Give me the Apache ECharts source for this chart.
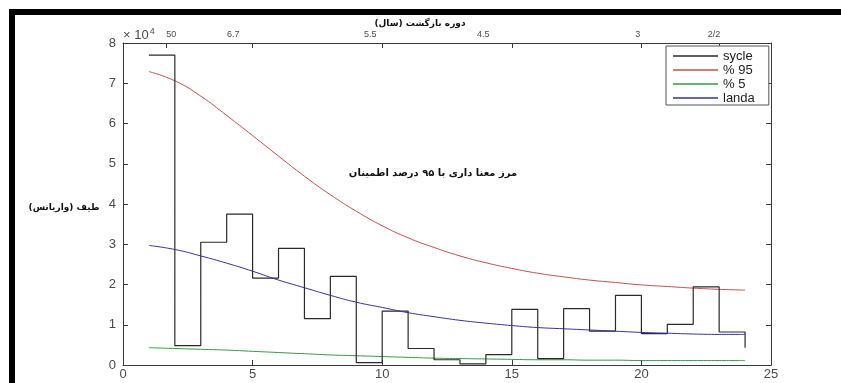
<!DOCTYPE html>
<html>
<head>
<meta charset="utf-8">
<script src="https://cdn.jsdelivr.net/npm/echarts@6/dist/echarts.min.js"></script>
<style>
  html, body { margin: 0; padding: 0; background: #fff; }
  #chart { width: 841px; height: 383px; position: relative; }
  .frame-top { position: absolute; left: 9px; top: 9px; width: 832px; height: 6px; background: #000; }
  .frame-left { position: absolute; left: 9px; top: 9px; width: 6px; height: 374px; background: #000; }
</style>
</head>
<body>
<div id="chart"></div>
<div class="frame-top"></div>
<div class="frame-left"></div>
<script>
// Harmonic numbers (x axis)
const harmonics = [1, 2, 3, 4, 5, 6, 7, 8, 9, 10, 11, 12, 13, 14, 15, 16, 17, 18, 19, 20, 21, 22, 23, 24];

// Spectral variance (x 10^4)
const sycle = [7.70, 0.48, 3.05, 3.75, 2.16, 2.90, 1.15, 2.20, 0.06, 1.34, 0.41, 0.13,
               0.03, 0.26, 1.38, 0.16, 1.40, 0.84, 1.73, 0.78, 1.01, 1.94, 0.82, 0.43];

// 95% confidence limit
const upper95 = [7.29, 7.06, 6.68, 6.20, 5.70, 5.19, 4.69, 4.23, 3.82, 3.46, 3.16, 2.92,
                 2.71, 2.54, 2.40, 2.28, 2.19, 2.11, 2.05, 1.99, 1.95, 1.91, 1.88, 1.86];

// 5% confidence limit
const lower5 = [0.43, 0.41, 0.39, 0.37, 0.34, 0.31, 0.28, 0.25, 0.23, 0.21, 0.19, 0.17,
                0.16, 0.15, 0.14, 0.13, 0.13, 0.12, 0.12, 0.11, 0.11, 0.11, 0.11, 0.11];

// Red-noise background (landa)
const landa = [2.97, 2.87, 2.71, 2.53, 2.33, 2.11, 1.92, 1.73, 1.56, 1.43, 1.30, 1.20,
               1.11, 1.04, 0.98, 0.93, 0.90, 0.87, 0.84, 0.81, 0.79, 0.77, 0.76, 0.76];

// Return period axis (top): tick positions, label positions and label texts
const periodTicks = [1.65, 5, 10, 15, 20, 23];
const periodLabelAt = [1.86, 4.25, 9.54, 13.9, 19.86, 22.8];
const periodLabels = ['50', '6.7', '5.5', '4.5', '3', '2/2'];

const pairs = arr => harmonics.map((h, i) => [h, arr[i]]);

const axisColor = '#3a3a3a';
const labelColor = '#4a4a4a';
const baseFont = 'Liberation Sans, Arial, sans-serif';
const faFont = 'DejaVu Sans, Noto Sans, sans-serif';

const chart = echarts.init(document.getElementById('chart'), null, { renderer: 'canvas' });

chart.setOption({
  animation: false,
  backgroundColor: '#fff',
  grid: { left: 123, top: 43, width: 648, height: 322 },
  title: [
    {
      text: 'دوره بازگشت (سال)',
      left: 415, top: 14, textAlign: 'center',
      textStyle: { fontFamily: faFont, fontSize: 9, fontWeight: 'bold', color: '#111' }
    },
    {
      text: 'طیف (واریانس)',
      left: 59, top: 198, textAlign: 'center',
      textStyle: { fontFamily: faFont, fontSize: 9, fontWeight: 'bold', color: '#111' }
    },
    {
      text: 'مرز معنا داری با ۹۵ درصد اطمینان',
      left: 428, top: 163, textAlign: 'center',
      textStyle: { fontFamily: faFont, fontSize: 10, fontWeight: 'bold', color: '#111' }
    }
  ],
  legend: {
    orient: 'vertical',
    left: 666, top: 46,
    padding: [3, 14, 0, 7],
    icon: 'rect',
    itemWidth: 45, itemHeight: 1.5, itemGap: 0,
    borderColor: '#555', borderWidth: 1,
    backgroundColor: '#fff',
    textStyle: { fontFamily: baseFont, fontSize: 13, lineHeight: 14, color: '#222' },
    data: ['sycle', '% 95', '% 5', 'landa']
  },
  xAxis: [
    {
      type: 'value', position: 'bottom', min: 0, max: 25, interval: 5,
      axisLine: { show: true, lineStyle: { color: axisColor, width: 1 } },
      axisTick: { show: true, inside: true, length: 5, lineStyle: { color: axisColor } },
      axisLabel: { margin: 3, color: labelColor, fontFamily: baseFont, fontSize: 13 },
      splitLine: { show: false }
    },
    {
      type: 'value', position: 'top', min: 0, max: 25,
      axisLine: { show: true, onZero: false, lineStyle: { color: axisColor, width: 1 } },
      axisTick: { show: true, inside: true, length: 5, customValues: periodTicks, lineStyle: { color: axisColor } },
      axisLabel: {
        margin: 4, color: labelColor, fontFamily: baseFont, fontSize: 9,
        customValues: periodLabelAt,
        formatter: v => {
          const i = periodLabelAt.findIndex(p => Math.abs(p - v) < 1e-6);
          return i >= 0 ? periodLabels[i] : '';
        }
      },
      splitLine: { show: false }
    }
  ],
  yAxis: [
    {
      type: 'value', position: 'left', min: 0, max: 8, interval: 1,
      name: '{a|× 10}{b|4}',
      nameLocation: 'end', nameGap: -1,
      nameTextStyle: {
        align: 'left', verticalAlign: 'bottom',
        rich: {
          a: { fontFamily: baseFont, fontSize: 13, color: labelColor },
          b: { fontFamily: baseFont, fontSize: 9, color: labelColor, verticalAlign: 'top', padding: [0, 0, 8, 1] }
        }
      },
      axisLine: { show: true, lineStyle: { color: axisColor, width: 1 } },
      axisTick: { show: true, inside: true, length: 5, lineStyle: { color: axisColor } },
      axisLabel: { margin: 7, color: labelColor, fontFamily: baseFont, fontSize: 13 },
      splitLine: { show: false }
    },
    {
      type: 'value', position: 'right', min: 0, max: 8, interval: 1,
      axisLine: { show: true, onZero: false, lineStyle: { color: axisColor, width: 1 } },
      axisTick: { show: true, inside: true, length: 5, lineStyle: { color: axisColor } },
      axisLabel: { show: false },
      splitLine: { show: false }
    }
  ],
  series: [
    {
      name: 'sycle', type: 'line', step: 'end', data: pairs(sycle),
      symbol: 'none', color: '#2a2a2a', lineStyle: { width: 1.2, color: '#2a2a2a' }, z: 3
    },
    {
      name: '% 95', type: 'line', smooth: true, data: pairs(upper95),
      symbol: 'none', color: '#c4504c', lineStyle: { width: 1, color: '#c4504c' }, z: 2
    },
    {
      name: '% 5', type: 'line', smooth: true, data: pairs(lower5),
      symbol: 'none', color: '#3a9646', lineStyle: { width: 1, color: '#3a9646' }, z: 2
    },
    {
      name: 'landa', type: 'line', smooth: true, data: pairs(landa),
      symbol: 'none', color: '#34349c', lineStyle: { width: 1, color: '#34349c' }, z: 4
    }
  ]
});
</script>
</body>
</html>
